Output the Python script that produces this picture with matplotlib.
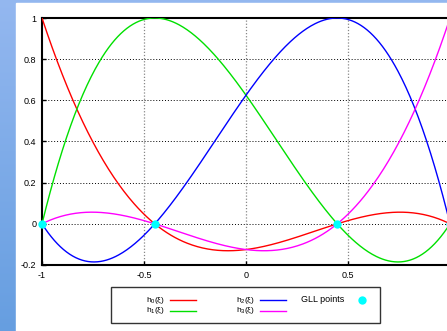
import numpy as np
import matplotlib
matplotlib.use("Agg")
import matplotlib.pyplot as plt
from matplotlib.lines import Line2D
from matplotlib.patches import Rectangle

plt.rcParams["font.family"] = ["Liberation Sans", "DejaVu Sans"]
plt.rcParams["mathtext.fontset"] = "custom"
plt.rcParams["mathtext.rm"] = "Liberation Sans"
plt.rcParams["mathtext.it"] = "Liberation Sans"

# GLL nodes (N = 3)
gll_nodes = [-1.0, -0.4472, 0.4472, 1.0]
labels = [r"h$_0$(ξ)", r"h$_1$(ξ)", r"h$_2$(ξ)", r"h$_3$(ξ)"]
colors = ["#ff0000", "#00e000", "#0000ff", "#ff00ff"]
x_ticks = [-1, -0.5, 0, 0.5]
x_tick_labels = ["-1", "-0.5", "0", "0.5"]
y_ticks = [-0.2, 0, 0.2, 0.4, 0.6, 0.8, 1]
y_tick_labels = ["-0.2", "0", "0.2", "0.4", "0.6", "0.8", "1"]

W, H = 447, 331
fig = plt.figure(figsize=(W / 100, H / 100), dpi=100)

# blue gradient backdrop with a white panel on top
bg = fig.add_axes([0, 0, 1, 1])
bg.axis("off")
grad = np.linspace(0, 1, 256).reshape(-1, 1)
top = np.array([0.58, 0.72, 0.94])
bot = np.array([0.40, 0.62, 0.88])
img = top[None, None, :] * (1 - grad[..., None]) + bot[None, None, :] * grad[..., None]
bg.imshow(img, aspect="auto", extent=[0, 1, 0, 1])
bg.set_xlim(0, 1)
bg.set_ylim(0, 1)
bg.add_patch(Rectangle((16 / W, 0), 1, 1 - 3 / H, color="white"))


def px(x, y):
    return x / W, 1 - y / H


ax = fig.add_axes([42 / W, (H - 265) / H, (450 - 42) / W, (265 - 18) / H])
ax.set_facecolor("white")

nodes = np.array(gll_nodes)
xs = np.linspace(-1, 1, 400)
for i, (lab, c) in enumerate(zip(labels, colors)):
    h = np.ones_like(xs)
    for j, xj in enumerate(nodes):
        if j != i:
            h *= (xs - xj) / (nodes[i] - xj)
    ax.plot(xs, h, color=c, lw=1.0, zorder=3)

ax.plot(nodes, np.zeros_like(nodes), "o", color="#00ffff", ms=6, mec="none",
        zorder=4, clip_on=False)

ax.set_xlim(-1, 1)
ax.set_ylim(-0.2, 1)
ax.set_xticks(x_ticks)
ax.set_xticklabels(x_tick_labels)
ax.set_yticks(y_ticks)
ax.set_yticklabels(y_tick_labels)
ax.tick_params(direction="in", length=3, width=1, labelsize=6.5, pad=4, colors="black")

for y in y_ticks[1:-1]:
    ax.axhline(y, color="black", lw=0.7, ls=(0, (1, 2)), zorder=1)
for x in x_ticks[1:]:
    ax.axvline(x, color="#888888", lw=0.9, ls=(0, (1, 1.5)), zorder=1)

ax.spines["right"].set_visible(False)
for s in ["left", "top", "bottom"]:
    ax.spines[s].set_linewidth(1.5)

# legend box, gnuplot style
x0, y0 = px(111, 323)
x1, y1 = px(380, 287)
fig.patches.append(Rectangle((x0, y0), x1 - x0, y1 - y0, transform=fig.transFigure,
                             fill=False, ec="#333333", lw=1.0))
entries = [(165, 170, 196, 300), (165, 170, 196, 311), (255, 260, 286, 300), (255, 260, 286, 311)]
for (tx, la, lb, yy), lab, c in zip(entries, labels, colors):
    fx, fy = px(tx, yy)
    fig.text(fx, fy, lab, ha="right", va="center", fontsize=6.0)
    a, b = px(la, yy)
    e, _ = px(lb, yy)
    fig.add_artist(Line2D([a, e], [b, b], color=c, lw=1.0, transform=fig.transFigure))
fx, fy = px(344, 300)
fig.text(fx, fy, "GLL points", ha="right", va="center", fontsize=6.5)
mx, my = px(362, 300)
fig.add_artist(Line2D([mx], [my], marker="o", color="#00ffff", ms=6, mec="none",
                      transform=fig.transFigure))

fig.savefig("out.png", dpi=100)
